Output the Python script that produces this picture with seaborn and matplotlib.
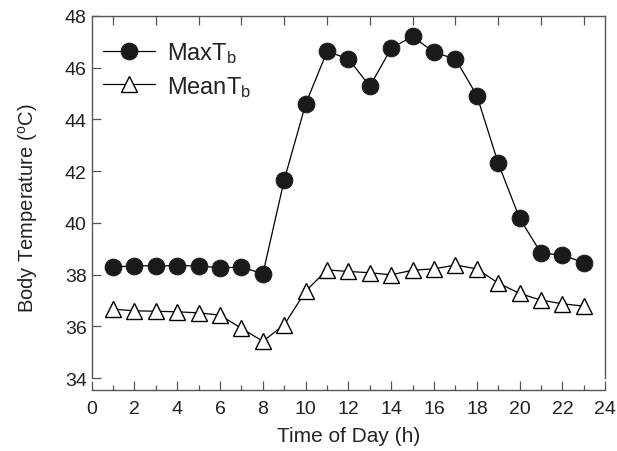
import matplotlib
matplotlib.use("Agg")
import matplotlib.pyplot as plt
import pandas as pd
import seaborn as sns

hours = list(range(1, 24))
max_tb = [38.29, 38.34, 38.34, 38.34, 38.34, 38.26, 38.29, 38.03, 41.67, 44.6,
          46.63, 46.34, 45.28, 46.76, 47.21, 46.59, 46.34, 44.92, 42.30, 40.17,
          38.83, 38.75, 38.46]
mean_tb = [36.66, 36.6, 36.58, 36.56, 36.52, 36.43, 35.92, 35.42, 36.06, 37.36,
           38.18, 38.12, 38.07, 37.99, 38.17, 38.22, 38.37, 38.22, 37.67, 37.27,
           37.01, 36.87, 36.78]

df = pd.DataFrame({'hour': hours, 'max': max_tb, 'mean': mean_tb})

sns.set_style("ticks")
plt.rcParams['font.family'] = ['Liberation Sans', 'DejaVu Sans']
plt.rcParams['mathtext.default'] = 'regular'
text_col = '#222222'
spine_col = '#555555'

fig = plt.figure(figsize=(6.17, 4.52), dpi=100)
ax = fig.add_axes([0.1486, 0.1615, 0.981 - 0.1486, 0.9624 - 0.1615])

sns.lineplot(data=df, x='hour', y='max', ax=ax, color='black', linewidth=0.9,
             marker='o', markersize=12, markerfacecolor='#1a1a1a',
             markeredgecolor='#1a1a1a', label='MaxT$_{b}$')
sns.lineplot(data=df, x='hour', y='mean', ax=ax, color='black', linewidth=0.9,
             marker='^', markersize=12, markerfacecolor='white',
             markeredgecolor='black', markeredgewidth=1.0, label='MeanT$_{b}$')

ax.set_xlim(0, 24)
ax.set_ylim(34, 48)
ax.set_xticks(range(0, 25, 2))
ax.set_xticks(range(1, 24, 2), minor=True)
ax.set_yticks(range(34, 49, 2))

for s in ax.spines.values():
    s.set_color(spine_col)
    s.set_linewidth(1.0)
ax.spines['bottom'].set_position(('outward', 8.6))

ax.tick_params(axis='both', which='major', direction='in', length=6.5,
               width=0.9, color=spine_col, labelsize=14, labelcolor=text_col)
ax.tick_params(axis='x', which='minor', direction='in', length=3.5,
               width=0.9, color=spine_col)
ax.tick_params(axis='x', which='major', pad=7)

# ticks on the top frame at odd hours
top = ax.secondary_xaxis('top')
top.set_xticks(range(1, 24, 2))
top.tick_params(direction='in', length=6.5, width=0.9, color=spine_col,
                labeltop=False)
top.spines['top'].set_visible(False)

ax.set_xlabel('Time of Day (h)', fontsize=15, color=text_col, labelpad=7)
ax.set_ylabel('Body Temperature ($^{o}$C)', fontsize=14.5, color=text_col)
ax.yaxis.set_label_coords(-0.1, 0.472)

leg = ax.legend(loc='upper left', frameon=False, fontsize=17, handlelength=2.2,
                handletextpad=0.5, borderaxespad=0.3, labelspacing=0.35,
                bbox_to_anchor=(-0.01, 0.978))
for t in leg.get_texts():
    t.set_color(text_col)

fig.savefig('out.png', dpi=100)
